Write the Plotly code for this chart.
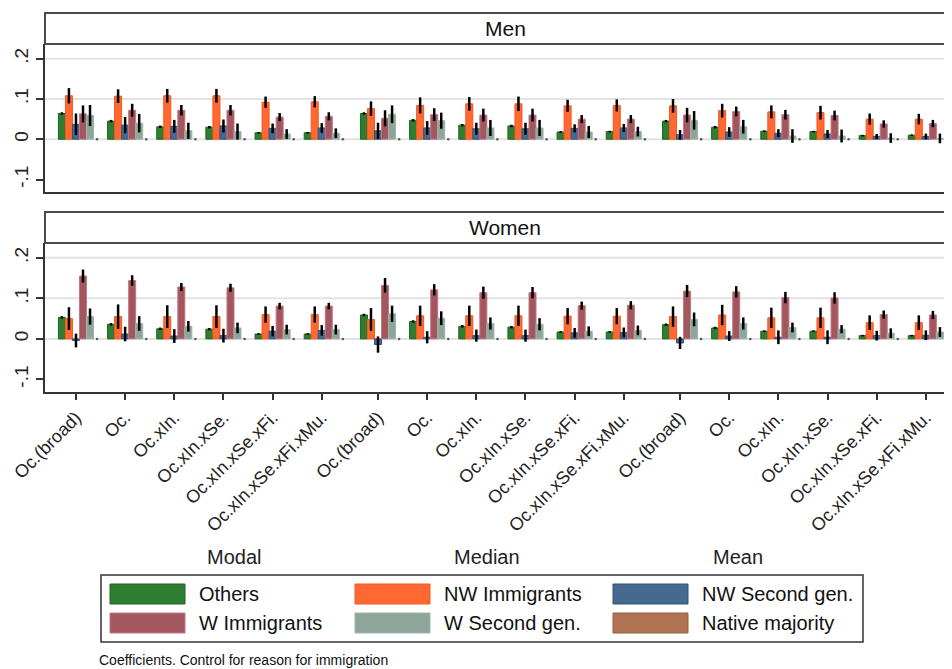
import plotly.graph_objects as go

# the page puts the figure 8px in from the top-left; keep it inside the 952x669 window
OFF = 8
W, H = 952 - OFF, 669 - OFF

specs = ["Oc.(broad)", "Oc.", "Oc.xIn.", "Oc.xIn.xSe.", "Oc.xIn.xSe.xFi.", "Oc.xIn.xSe.xFi.xMu."]
measures = ["Modal", "Median", "Mean"]
series = ["Others", "NW Immigrants", "NW Second gen.", "W Immigrants", "W Second gen.", "Native majority"]
colors = ["#2F7D32", "#FF6830", "#466A8F", "#A4565F", "#8DA699", "#B07352"]
edges = ["#1E6421", "#F25A20", "#2F5578", "#C07882", "#9DB5A8", "#9A5E40"]

# Men: coefficient and half-width of the confidence interval, 18 points (3 measures x 6 specs)
others_m = [0.064, 0.045, 0.031, 0.030, 0.016, 0.016, 0.064, 0.047, 0.035, 0.033, 0.018, 0.019, 0.045, 0.030, 0.020, 0.019, 0.009, 0.010]
others_m_ci = [0.003, 0.003, 0.003, 0.003, 0.002, 0.002, 0.003, 0.003, 0.003, 0.003, 0.002, 0.002, 0.003, 0.003, 0.002, 0.002, 0.002, 0.002]
nwimm_m = [0.108, 0.107, 0.108, 0.108, 0.092, 0.093, 0.076, 0.084, 0.088, 0.088, 0.083, 0.084, 0.083, 0.071, 0.068, 0.066, 0.050, 0.050]
nwimm_m_ci = [0.019, 0.017, 0.017, 0.017, 0.014, 0.014, 0.018, 0.020, 0.017, 0.018, 0.015, 0.015, 0.017, 0.017, 0.016, 0.017, 0.014, 0.013]
nw2_m = [0.037, 0.035, 0.032, 0.033, 0.027, 0.028, 0.021, 0.028, 0.026, 0.026, 0.027, 0.028, 0.011, 0.018, 0.015, 0.013, 0.007, 0.007]
nw2_m_ci = [0.027, 0.020, 0.016, 0.016, 0.012, 0.012, 0.020, 0.017, 0.015, 0.015, 0.010, 0.010, 0.012, 0.012, 0.010, 0.010, 0.006, 0.007]
wimm_m = [0.063, 0.072, 0.072, 0.072, 0.055, 0.057, 0.052, 0.061, 0.060, 0.060, 0.050, 0.050, 0.060, 0.069, 0.061, 0.059, 0.038, 0.039]
wimm_m_ci = [0.021, 0.016, 0.013, 0.013, 0.010, 0.010, 0.020, 0.016, 0.016, 0.016, 0.010, 0.010, 0.018, 0.012, 0.012, 0.012, 0.009, 0.009]
w2_m = [0.059, 0.040, 0.021, 0.019, 0.013, 0.015, 0.062, 0.046, 0.028, 0.028, 0.018, 0.019, 0.047, 0.031, 0.008, 0.008, 0.003, 0.002]
w2_m_ci = [0.026, 0.023, 0.020, 0.020, 0.012, 0.012, 0.022, 0.020, 0.020, 0.020, 0.015, 0.012, 0.023, 0.017, 0.017, 0.016, 0.012, 0.012]
native_m = [0.0] * 18

# Women
others_w = [0.053, 0.036, 0.025, 0.024, 0.012, 0.012, 0.059, 0.043, 0.031, 0.029, 0.017, 0.017, 0.035, 0.027, 0.019, 0.019, 0.008, 0.008]
others_w_ci = [0.003, 0.003, 0.003, 0.003, 0.002, 0.002, 0.003, 0.003, 0.003, 0.003, 0.002, 0.002, 0.003, 0.003, 0.002, 0.002, 0.002, 0.002]
nwimm_w = [0.050, 0.055, 0.055, 0.055, 0.060, 0.060, 0.048, 0.057, 0.057, 0.057, 0.056, 0.056, 0.055, 0.059, 0.052, 0.052, 0.040, 0.040]
nwimm_w_ci = [0.028, 0.030, 0.028, 0.028, 0.020, 0.020, 0.028, 0.025, 0.025, 0.025, 0.020, 0.020, 0.025, 0.025, 0.025, 0.025, 0.018, 0.018]
nw2_w = [-0.004, 0.012, 0.007, 0.008, 0.019, 0.021, -0.014, 0.004, 0.008, 0.008, 0.015, 0.016, -0.010, 0.007, 0.004, 0.004, 0.008, 0.009]
nw2_w_ci = [0.017, 0.018, 0.017, 0.017, 0.013, 0.013, 0.020, 0.015, 0.015, 0.015, 0.012, 0.012, 0.015, 0.012, 0.017, 0.017, 0.012, 0.012]
wimm_w = [0.155, 0.144, 0.128, 0.126, 0.081, 0.081, 0.132, 0.121, 0.114, 0.114, 0.082, 0.083, 0.118, 0.116, 0.102, 0.101, 0.060, 0.059]
wimm_w_ci = [0.016, 0.013, 0.010, 0.010, 0.008, 0.008, 0.018, 0.014, 0.015, 0.014, 0.010, 0.010, 0.015, 0.014, 0.014, 0.014, 0.010, 0.010]
w2_w = [0.055, 0.038, 0.031, 0.027, 0.023, 0.023, 0.062, 0.051, 0.038, 0.036, 0.019, 0.021, 0.048, 0.038, 0.028, 0.024, 0.014, 0.017]
w2_w_ci = [0.020, 0.018, 0.013, 0.013, 0.012, 0.012, 0.020, 0.017, 0.015, 0.015, 0.012, 0.012, 0.017, 0.015, 0.012, 0.010, 0.012, 0.012]
native_w = [0.0] * 18

panels = [
    ("Men", [others_m, nwimm_m, nw2_m, wimm_m, w2_m, native_m],
     [others_m_ci, nwimm_m_ci, nw2_m_ci, wimm_m_ci, w2_m_ci]),
    ("Women", [others_w, nwimm_w, nw2_w, wimm_w, w2_w, native_w],
     [others_w_ci, nwimm_w_ci, nw2_w_ci, wimm_w_ci, w2_w_ci]),
]

FONT = "Liberation Sans, Arial, sans-serif"
group_gap = 0.144
bw = 0.143
pos = [g * (len(specs) + group_gap) + k for g in range(len(measures)) for k in range(len(specs))]
labels = specs * len(measures)


def px(x):
    return (x - OFF) / W


def py(y):
    return 1 - (y - OFF) / H


plot_left = 45
plot_rows = [(13, 44, 192), (212, 243, 392)]  # strip top, plot top, plot bottom

fig = go.Figure()
shapes = []
annotations = []

for r, (title, vals, cis) in enumerate(panels):
    xa = "x" if r == 0 else "x2"
    ya = "y" if r == 0 else "y2"
    for i, name in enumerate(series[:5]):
        fig.add_trace(go.Bar(
            x=[p + (i - 2) * bw for p in pos], y=vals[i], width=bw,
            marker=dict(color=colors[i], line=dict(color=edges[i], width=1)),
            error_y=dict(type="data", array=cis[i], color="black", thickness=2.5, width=0),
            name=name, showlegend=False, xaxis=xa, yaxis=ya,
        ))
    fig.add_trace(go.Scatter(
        x=[p + 3 * bw for p in pos], y=vals[5], mode="markers",
        marker=dict(color="#555555", size=2.5), name=series[5],
        showlegend=False, xaxis=xa, yaxis=ya,
    ))
    st, pt, pb = plot_rows[r]
    # strip header
    shapes.append(dict(type="rect", xref="paper", yref="paper", x0=px(plot_left), x1=1.02,
                       y0=py(pt), y1=py(st), line=dict(color="#4a4a4a", width=2), fillcolor="white"))
    annotations.append(dict(text=title, xref="paper", yref="paper", x=px(505),
                            y=py((st + pt) / 2), showarrow=False, xanchor="center", yanchor="middle",
                            font=dict(size=21, color="#111111", family=FONT)))
    for gy in [0, 0.1, 0.2]:
        shapes.append(dict(type="line", xref=xa + " domain", yref=ya, x0=0, x1=1, y0=gy, y1=gy,
                           line=dict(color="#e3e3e3", width=2), layer="below"))

ytick = dict(tickvals=[-0.1, 0, 0.1, 0.2], ticktext=["-.1", "0", ".1", ".2"], tickangle=-90,
             ticks="outside", ticklen=7, tickwidth=1.5, tickcolor="#333333",
             tickfont=dict(size=19, color="#222222", family=FONT), automargin=False,
             showline=True, linecolor="#333333", linewidth=2, showgrid=False, zeroline=False,
             range=[-0.131, 0.2365], fixedrange=True)

xcommon = dict(range=[-0.63, 17.82], domain=[px(plot_left), 1], showgrid=False, zeroline=False,
               showline=True, linecolor="#333333", linewidth=2, automargin=False)

fig.update_layout(
    width=W, height=H, margin=dict(l=0, r=0, t=0, b=0),
    paper_bgcolor="white", plot_bgcolor="white", barmode="overlay",
    font=dict(family=FONT),
    xaxis=dict(**xcommon, anchor="y", showticklabels=False, ticks=""),
    xaxis2=dict(**xcommon, anchor="y2", tickvals=pos, ticktext=labels, tickangle=-45,
                ticks="outside", ticklen=6, tickwidth=1.5, tickcolor="#333333",
                tickfont=dict(size=18, color="#222222", family=FONT)),
    yaxis=dict(**ytick, domain=[py(plot_rows[0][2]), py(plot_rows[0][1])], anchor="x"),
    yaxis2=dict(**ytick, domain=[py(plot_rows[1][2]), py(plot_rows[1][1])], anchor="x2"),
)

# measure labels under the axis
for m, xc in zip(measures, [234, 487, 738]):
    annotations.append(dict(text=m, xref="paper", yref="paper", x=px(xc), y=py(557), showarrow=False,
                            xanchor="center", yanchor="middle", font=dict(size=20, color="#222222", family=FONT)))

# legend box drawn by hand (wide swatches like the original)
shapes.append(dict(type="rect", xref="paper", yref="paper", x0=px(101), x1=px(863), y0=py(642), y1=py(575),
                   line=dict(color="#333333", width=1.5), fillcolor="white"))
sw_x = [110, 355, 613]
row_y = [594, 623]
for i, name in enumerate(series):
    col, row = i % 3, i // 3
    x0 = sw_x[col]
    yc = row_y[row]
    shapes.append(dict(type="rect", xref="paper", yref="paper", x0=px(x0), x1=px(x0 + 75),
                       y0=py(yc + 10), y1=py(yc - 10), fillcolor=colors[i],
                       line=dict(color=edges[i], width=1)))
    annotations.append(dict(text=name, xref="paper", yref="paper", x=px(x0 + 87), y=py(yc), showarrow=False,
                            xanchor="left", yanchor="middle", font=dict(size=20, color="#111111", family=FONT)))

annotations.append(dict(text="Coefficients. Control for reason for immigration", xref="paper", yref="paper",
                        x=px(97), y=py(660), showarrow=False, xanchor="left", yanchor="middle",
                        font=dict(size=14, color="#111111", family=FONT)))

fig.update_layout(shapes=shapes, annotations=annotations)
fig.write_html("out.html")
